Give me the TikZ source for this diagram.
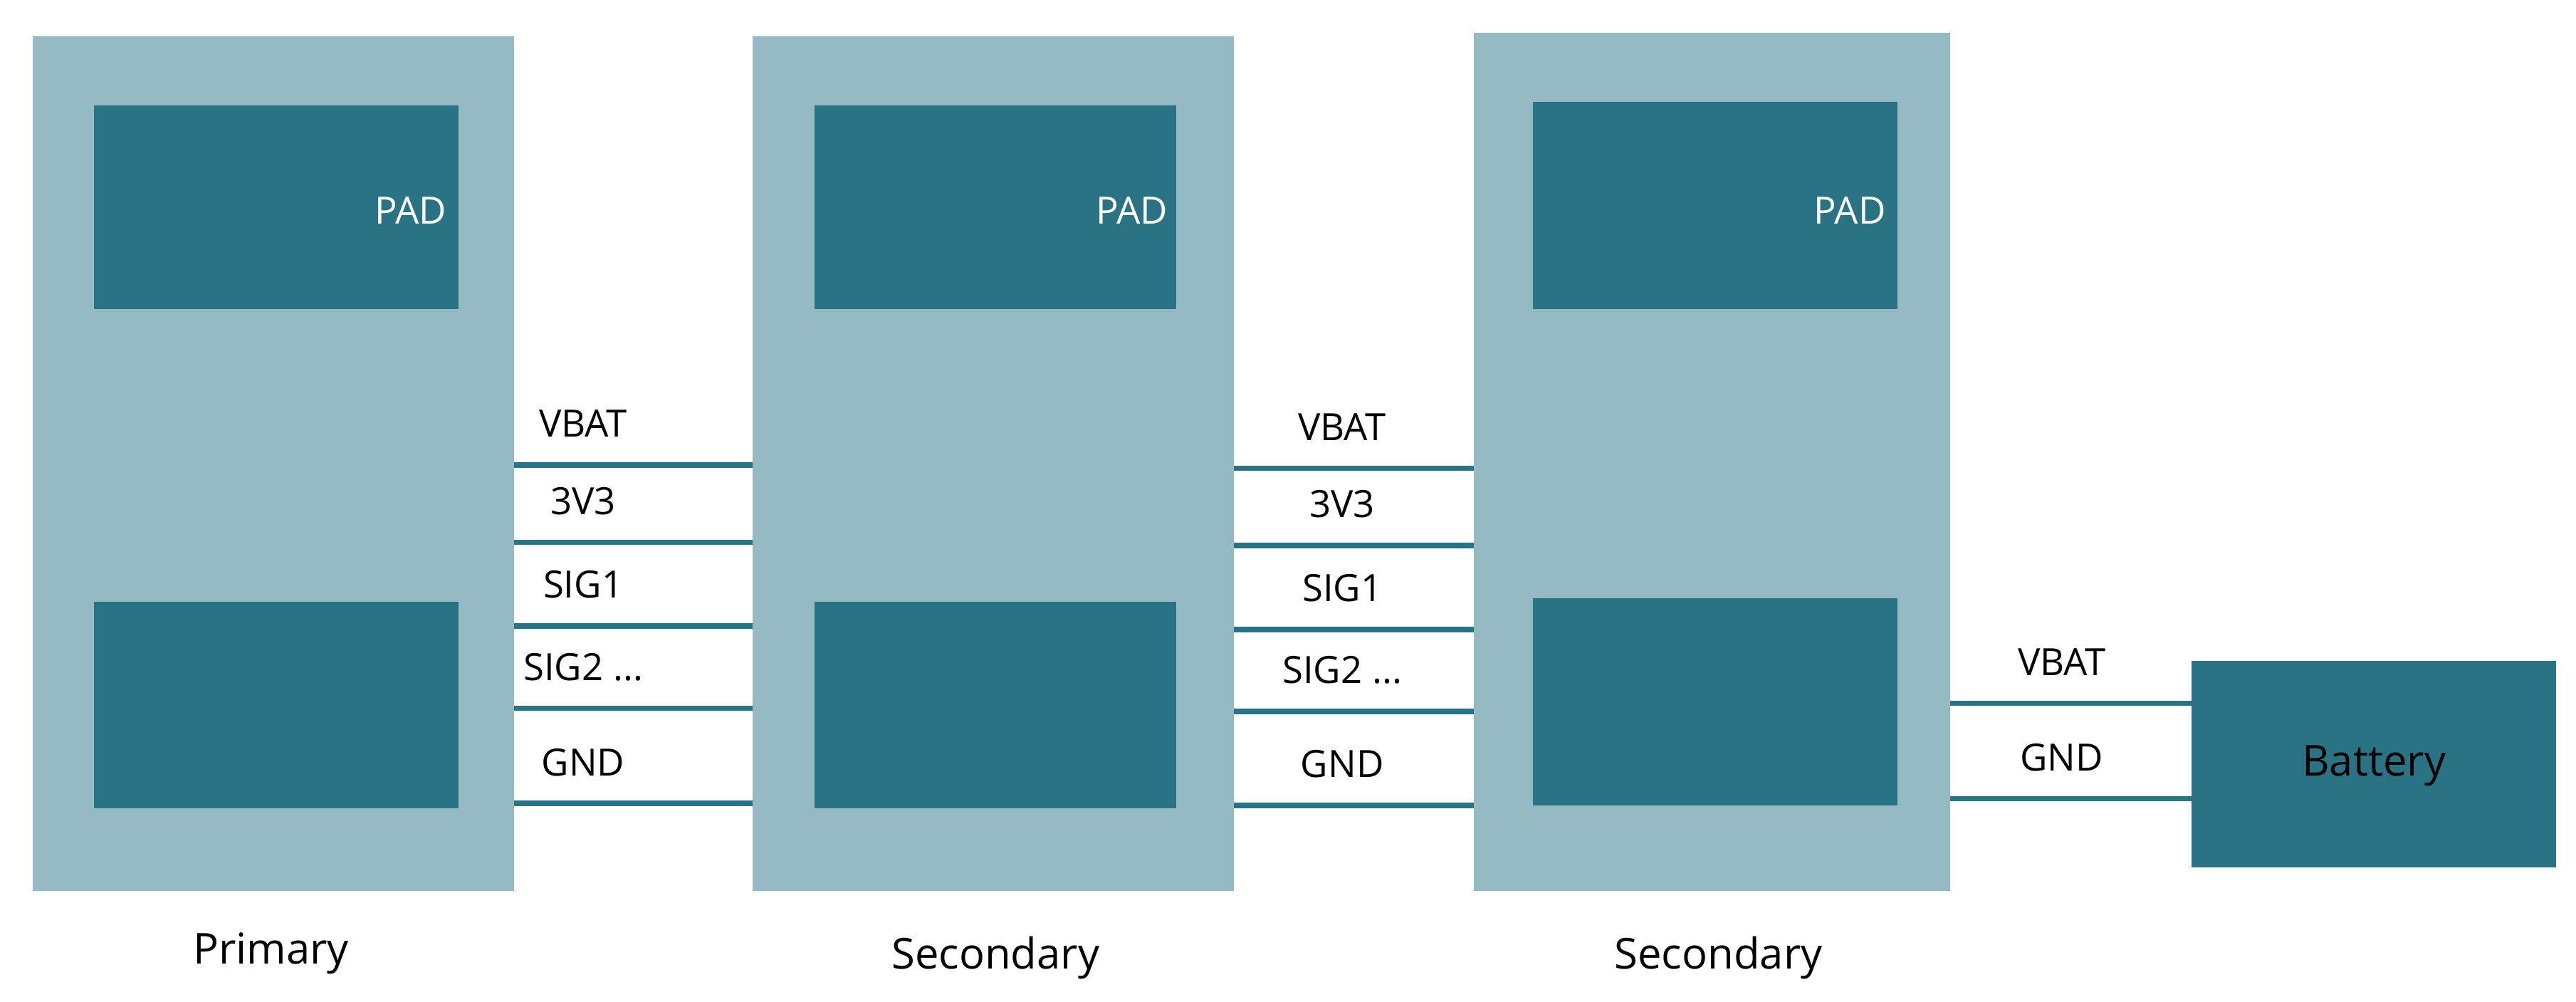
\documentclass[tikz,border=0pt]{standalone}
\usepackage{fontspec}
\setmainfont{Open Sans}
\newcommand\sigtwolabel{SIG2 ...}
\begin{document}
\begin{tikzpicture}[x=0.023074cm,y=-0.023074cm,
  outer/.style={fill=light,draw=none},
  inner/.style={fill=dark,draw=none},
  wire/.style={draw=dark,line width=2.2pt},
  lab/.style={font=\fontsize{15}{18}\selectfont,text=black},
  pad/.style={font=\fontsize{15}{18}\selectfont,text=white},
  bigcap/.style={font=\fontsize{17}{20}\selectfont,text=black}]
\definecolor{light}{HTML}{96BAC4}
\definecolor{dark}{HTML}{2A7385}
\useasboundingbox (0,0) rectangle (1568,609.4);
\fill[white] (0,0) rectangle (1568,609.4);
% boards
\path[outer] (20,22) rectangle (313,542);
\path[outer] (458,22) rectangle (751,542);
\path[outer] (897,20) rectangle (1187,542);
\path[inner] (57,64) rectangle (279,188);
\path[inner] (57,366) rectangle (279,492);
\path[inner] (496,64) rectangle (716,188);
\path[inner] (496,366) rectangle (716,492);
\path[inner] (933,62) rectangle (1155,188);
\path[inner] (933,364) rectangle (1155,490);
\node[pad] (p1) at (250,128) {PAD};
\node[pad] (p2) at (689,128) {PAD};
\node[pad] (p3) at (1126,128) {PAD};
\path[inner] (1334,402) rectangle (1556,528);
\node[bigcap] (bt) at (1445,466) {Battery};
\foreach \y/\t [count=\i] in {283/VBAT,330/3V3,381/SIG1,431/\sigtwolabel,489/GND}{
  \coordinate (a\i) at (313,\y); \coordinate (b\i) at (458,\y);
  \draw[wire] (a\i) -- (b\i);
  \node[lab,anchor=base] (la\i) at (355,\y-17) {\t};
}
\foreach \y/\t [count=\i] in {285/VBAT,332/3V3,383/SIG1,433/\sigtwolabel,490/GND}{
  \coordinate (c\i) at (751,\y); \coordinate (d\i) at (897,\y);
  \draw[wire] (c\i) -- (d\i);
  \node[lab,anchor=base] (lc\i) at (817,\y-17) {\t};
}
\foreach \y/\t [count=\i] in {428/VBAT,486/GND}{
  \coordinate (e\i) at (1187,\y); \coordinate (f\i) at (1334,\y);
  \draw[wire] (e\i) -- (f\i);
  \node[lab,anchor=base] (le\i) at (1255,\y-17) {\t};
}
\node[bigcap] (n1) at (165,580) {Primary};
\node[bigcap] (n2) at (606,583) {Secondary};
\node[bigcap] (n3) at (1046,583) {Secondary};
\end{tikzpicture}
\end{document}
